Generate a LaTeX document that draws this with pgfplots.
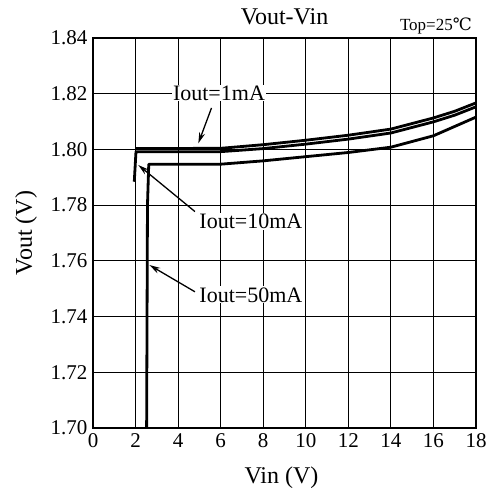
\documentclass[border=0pt]{standalone}
\usepackage{fontspec}
\setmainfont{Liberation Serif}
\newfontfamily\symfont{DejaVu Serif}
\usepackage{pgfplots}
\pgfplotsset{compat=1.18}
\usetikzlibrary{calc,arrows.meta}

\pgfplotstableread{
x y
2.02 1.8003
6 1.8004
8 1.8017
10 1.8033
12 1.8051
14 1.8073
16 1.8113
17 1.8137
18 1.8167
}\iouta

\pgfplotstableread{
x y
1.94 1.7884
2.02 1.7992
6 1.7992
8 1.8003
10 1.8019
12 1.8037
14 1.8059
16 1.8099
17 1.8123
18 1.8153
}\ioutb

\pgfplotstableread{
x y
2.52 1.7000
2.56 1.7800
2.62 1.7947
6 1.7947
8 1.7959
10 1.7974
12 1.7989
14 1.8008
16 1.8049
18 1.8116
}\ioutc

\begin{document}
\begin{tikzpicture}
\begin{axis}[
  scale only axis, width=383pt, height=390pt,
  xmin=0, xmax=18, ymin=1.70, ymax=1.84,
  xtick={0,2,4,6,8,10,12,14,16,18},
  ytick={1.70,1.72,1.74,1.76,1.78,1.80,1.82,1.84},
  yticklabel style={xshift=-2pt, /pgf/number format/fixed, /pgf/number format/fixed zerofill, /pgf/number format/precision=2},
  /pgf/number format/assume math mode=true,
  ticklabel style={font=\fontsize{21}{21}\selectfont},
  xticklabel style={yshift=-2pt},
  grid=major, major grid style={black,line width=1pt},
  major tick length=0pt,
  axis line style={black,line width=1.5pt},
]
\addplot[black, line width=2.8pt, line join=round] table {\iouta};
\addplot[black, line width=2.8pt, line join=round] table {\ioutb};
\addplot[black, line width=2.8pt, line join=round] table {\ioutc};

\node[fill=white, inner sep=1pt, font=\fontsize{22}{22}\selectfont] at (axis cs:5.92,1.8203) {Iout=1mA};
\draw[line width=1.3pt, -{Stealth[length=11pt,width=6pt]}] (axis cs:5.57,1.8149) -- (axis cs:4.95,1.8022);
\node[fill=white, inner sep=1pt, font=\fontsize{22}{22}\selectfont] at (axis cs:7.42,1.7741) {Iout=10mA};
\draw[line width=1.3pt, -{Stealth[length=11pt,width=6pt]}] (axis cs:4.79,1.7777) -- (axis cs:2.13,1.7944);
\node[fill=white, inner sep=1pt, font=\fontsize{22}{22}\selectfont] at (axis cs:7.42,1.7478) {Iout=50mA};
\draw[line width=1.3pt, -{Stealth[length=11pt,width=6pt]}] (axis cs:4.79,1.7489) -- (axis cs:2.65,1.7585);
\end{axis}
\node[anchor=base, font=\fontsize{24}{24}\selectfont] at ($(current axis.north)+(0,13pt)$) {Vout-Vin};
\node[anchor=base east, inner sep=0pt, font=\fontsize{17}{17}\selectfont] at ($(current axis.north east)+(-4pt,7pt)$) {Top=25{\symfont ℃}};
\node[anchor=base, font=\fontsize{24}{24}\selectfont] at ($(current axis.south)+(-3pt,-55pt)$) {Vin (V)};
\node[anchor=base, rotate=90, font=\fontsize{24}{24}\selectfont] at ($(current axis.west)+(-61pt,0)$) {Vout (V)};
\pgfresetboundingbox
\path ($(current axis.south west)+(-93pt,-69pt)$) rectangle ($(current axis.north east)+(13pt,38pt)$);
\end{tikzpicture}
\end{document}
